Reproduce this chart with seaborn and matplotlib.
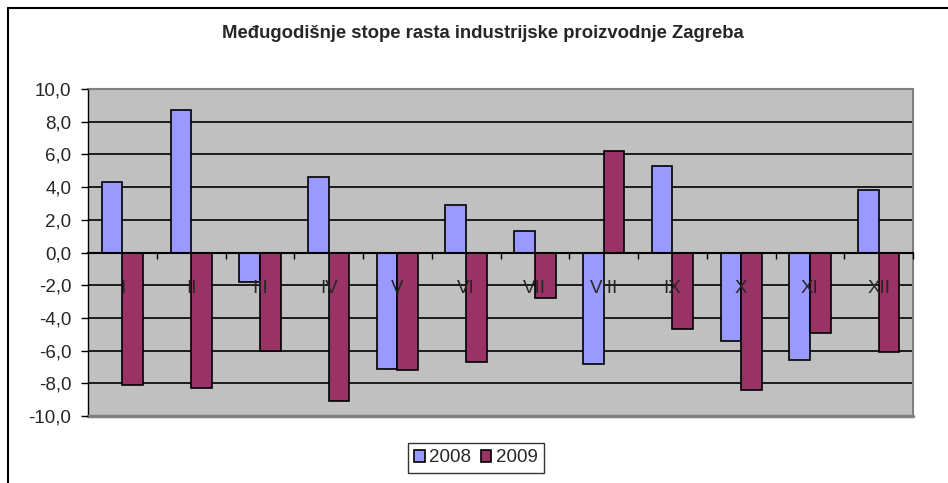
import numpy as np
import pandas as pd
import matplotlib
matplotlib.use("Agg")
import matplotlib.pyplot as plt
import seaborn as sns
from matplotlib.lines import Line2D
from matplotlib.ticker import FuncFormatter

# data
months = ["I", "II", "III", "IV", "V", "VI", "VII", "VIII", "IX", "X", "XI", "XII"]
v2008 = [4.3, 8.7, -1.8, 4.6, -7.1, 2.9, 1.3, -6.8, 5.3, -5.4, -6.6, 3.8]
v2009 = [-8.1, -8.3, -6.0, -9.1, -7.2, -6.7, -2.8, 6.2, -4.7, -8.4, -4.9, -6.1]
years = ["2008", "2009"]
colors = ["#9999FF", "#993366"]

df = pd.DataFrame({
    "month": months * 2,
    "value": v2008 + v2009,
    "year": [years[0]] * 12 + [years[1]] * 12,
})

sns.set_style("white")
plt.rcParams["font.family"] = ["Liberation Sans", "DejaVu Sans"]

fig = plt.figure(figsize=(9.48, 4.83), dpi=100)
ax = fig.add_axes([88 / 948, 1 - 416 / 483, 825 / 948, 327 / 483])

sns.barplot(data=df, x="month", y="value", hue="year", order=months,
            palette=colors, width=0.6, edgecolor="black", linewidth=1.2,
            saturation=1, ax=ax, zorder=3)

ax.set_facecolor("#C0C0C0")
ax.set_ylim(-10, 10)
ax.set_xlim(-0.5, 11.5)
yt = np.arange(-10, 11, 2)
ax.set_yticks(yt)
ax.yaxis.set_major_formatter(FuncFormatter(lambda v, p: f"{v:.1f}".replace(".", ",")))
# gridlines below the bars, axis labels above them
ax.grid(False)
for v in yt[1:-1]:
    ax.axhline(v, color="black", linewidth=1.2, zorder=1)
ax.xaxis.set_zorder(6)
ax.yaxis.set_zorder(6)
ax.tick_params(axis="y", direction="out", length=5, width=1, color="black",
               labelsize=13.5, pad=7, left=True)

# category axis sits on zero line, labels just below it
ax.spines["bottom"].set_position(("data", 0))
ax.spines["bottom"].set_color("black")
ax.spines["bottom"].set_linewidth(1.5)
ax.spines["bottom"].set_zorder(4)
ax.set_xticks(range(12))
ax.set_xticklabels(months)
ax.tick_params(axis="x", which="major", length=0, labelsize=13.5, pad=20)
ax.set_xticks(np.arange(0.5, 11.6, 1), minor=True)
ax.tick_params(axis="x", which="minor", direction="out", length=4, width=1,
               color="black", bottom=True)

ax.spines["left"].set_color("black")
ax.spines["left"].set_linewidth(1)
for s in ["top", "right"]:
    ax.spines[s].set_color("#808080")
    ax.spines[s].set_linewidth(1.5)
ax.plot([0, 1], [0, 0], transform=ax.transAxes, color="#808080", lw=2.5,
        clip_on=False, zorder=5)

ax.set_xlabel("")
ax.set_ylabel("")

fig.text(483 / 948, 1 - 34 / 483, "Međugodišnje stope rasta industrijske proizvodnje Zagreba",
         ha="center", va="center", fontsize=13.3, fontweight="bold")

handles, labels = ax.get_legend_handles_labels()
ax.legend_.remove()
leg = fig.legend(handles, labels, loc="center", bbox_to_anchor=(476 / 948, 1 - 458 / 483),
                 ncol=2, frameon=True, fancybox=False, edgecolor="black",
                 fontsize=13.5, handlelength=0.55, handleheight=0.55,
                 handletextpad=0.25, columnspacing=0.5, borderpad=0.35)
leg.get_frame().set_linewidth(1)

# outer chart frame
fig.add_artist(Line2D([8 / 948, 1], [1 - 8 / 483, 1 - 8 / 483], color="black", lw=1.5,
                      transform=fig.transFigure))
fig.add_artist(Line2D([8 / 948, 8 / 948], [0, 1 - 8 / 483], color="black", lw=1.5,
                      transform=fig.transFigure))

fig.savefig("out.png", dpi=100, facecolor="white")
